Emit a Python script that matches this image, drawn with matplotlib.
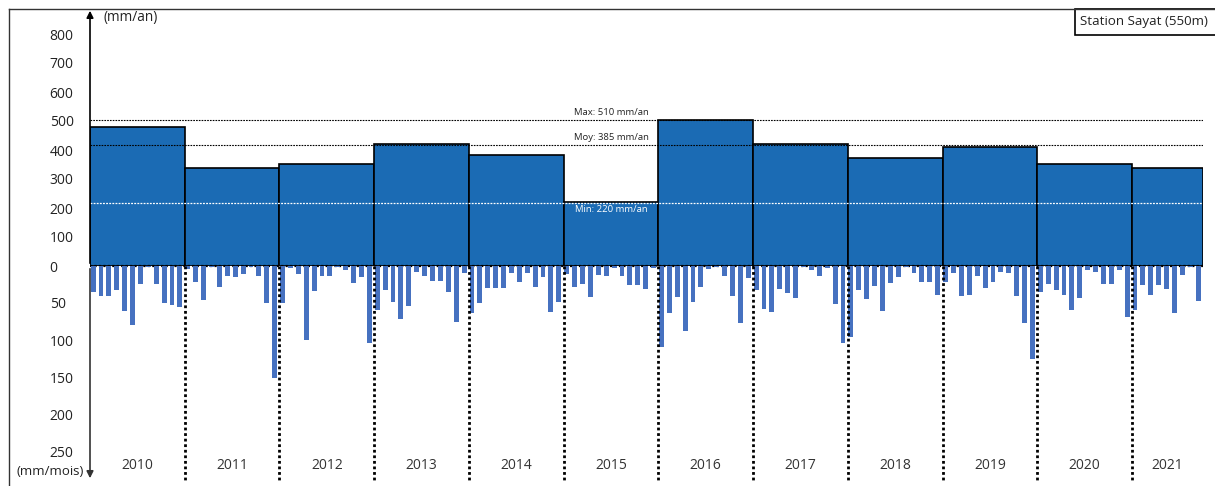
import matplotlib
matplotlib.use("Agg")
import matplotlib.pyplot as plt
from matplotlib.patches import FancyArrowPatch, Rectangle
from matplotlib.lines import Line2D

plt.rcParams["font.family"] = ["Open Sans", "DejaVu Sans"]

# Data
years = [2010, 2011, 2012, 2013, 2014, 2015, 2016, 2017, 2018, 2019, 2020, 2021]
annual = [478, 338, 352, 421, 383, 222, 503, 421, 372, 410, 352, 338]  # mm/an
monthly = [
    [35, 40, 40, 32, 61, 80, 25, 2, 25, 50, 53, 56],
    [4, 22, 46, 1, 28, 14, 15, 11, 1, 14, 50, 152],
    [50, 3, 11, 100, 34, 14, 14, 2, 6, 23, 15, 104],
    [59, 33, 48, 72, 54, 8, 14, 20, 20, 35, 76, 9],
    [63, 50, 30, 30, 30, 10, 22, 10, 28, 15, 62, 49],
    [11, 28, 25, 42, 12, 14, 3, 13, 26, 26, 31, 3],
    [110, 64, 42, 88, 49, 28, 4, 1, 13, 40, 77, 16],
    [32, 58, 62, 31, 36, 43, 2, 5, 13, 3, 51, 104],
    [96, 33, 45, 27, 61, 23, 15, 1, 10, 22, 22, 39],
    [21, 10, 40, 39, 14, 30, 22, 8, 10, 41, 77, 125],
    [35, 25, 33, 39, 60, 43, 5, 8, 25, 25, 5, 69],
    [60, 26, 39, 26, 31, 64, 12, 1, 47],
]  # mm/mois
ref_levels = [503, 417, 217]  # where the dotted lines sit
ref_labels = ["Max: 510 mm/an", "Moy: 385 mm/an", "Min: 220 mm/an"]
top_ticks = [0, 100, 200, 300, 400, 500, 600, 700, 800]
bot_ticks = [50, 100, 150, 200, 250]

annual_color = "#1b6bb4"
monthly_color = "#4671c0"
W, H = 1215, 486


def fx(px):
    return px / W


def fy(py):
    return 1 - py / H


fig = plt.figure(figsize=(W / 100, H / 100), dpi=100)
x0, x1 = 90, 1203
ax_top = fig.add_axes([fx(x0), fy(266), fx(x1) - fx(x0), fy(10) - fy(266)])
ax_bot = fig.add_axes([fx(x0), fy(482), fx(x1) - fx(x0), fy(266) - fy(482)])

# month positions
starts = []
pos = 0
for m in monthly:
    starts.append(pos)
    pos += len(m)
n_total = pos

for ax in (ax_top, ax_bot):
    ax.set_xlim(0, n_total)
    for s in ax.spines.values():
        s.set_visible(False)
    ax.set_xticks([])
    ax.patch.set_alpha(0)

ax_top.set_ylim(0, (266 - 10) / 0.29)
ax_bot.set_ylim((482 - 266) / 0.74, 0)

# annual bars
ax_top.bar(starts, annual, width=[len(m) for m in monthly], align="edge",
           color=annual_color, edgecolor="black", linewidth=1.2, zorder=2)

# reference lines
ax_top.axhline(ref_levels[0], color="black", lw=0.8, ls=(0, (1.5, 1)), zorder=3)
ax_top.axhline(ref_levels[1], color="black", lw=0.8, ls=(0, (1.5, 1)), zorder=3)
ax_top.axhline(ref_levels[2], color="white", lw=0.9, ls=(0, (1.5, 1)), zorder=3)
ax_top.text(66, ref_levels[0] + 10, ref_labels[0], ha="center", va="bottom", fontsize=6.8, color="#222222")
ax_top.text(66, ref_levels[1] + 10, ref_labels[1], ha="center", va="bottom", fontsize=6.8, color="#222222")
ax_top.text(66, ref_levels[2] - 8, ref_labels[2], ha="center", va="top", fontsize=6.8, color="white", zorder=4)

ax_top.axhline(0, color="black", lw=1.6, ls=(0, (1, 1)), zorder=4, clip_on=False)

# monthly bars
for s, m in zip(starts, monthly):
    xs = [s + i + 0.08 for i in range(len(m))]
    ax_bot.bar(xs, m, width=0.62, align="edge", color=monthly_color, zorder=2)

# year separators
ax_bot.vlines(starts[1:], 0, (482 - 266) / 0.74, colors="black", lw=2,
              linestyles=(0, (1, 1)), zorder=3)

for s, m, y in zip(starts, monthly, years):
    ax_bot.text(s + len(m) / 2, 270, str(y), ha="center", va="center",
                fontsize=10, color="#333333")

# tick labels
ax_top.set_yticks(top_ticks)
ax_top.set_yticklabels([str(t) for t in top_ticks])
ax_bot.set_yticks(bot_ticks)
ax_bot.set_yticklabels([str(t) for t in bot_ticks])
for ax in (ax_top, ax_bot):
    ax.tick_params(axis="y", length=0, pad=29, labelsize=10, labelcolor="#222222")
    for lab in ax.get_yticklabels():
        lab.set_horizontalalignment("left")

# vertical axis with arrows
arr_up = FancyArrowPatch((fx(x0), fy(266)), (fx(x0), fy(8)), transform=fig.transFigure,
                         arrowstyle="-|>", mutation_scale=10, color="black", lw=1.2)
arr_dn = FancyArrowPatch((fx(x0), fy(266)), (fx(x0), fy(481)), transform=fig.transFigure,
                         arrowstyle="-|>", mutation_scale=10, color="#333333", lw=1.2)
fig.add_artist(arr_up)
fig.add_artist(arr_dn)

fig.text(fx(103), fy(17), "(mm/an)", ha="left", va="center", fontsize=9.8, color="#222222")
fig.text(fx(84), fy(471), "(mm/mois)", ha="right", va="center", fontsize=9.5, color="#222222")

# frame
fig.add_artist(Line2D([fx(9), 1], [fy(9), fy(9)], transform=fig.transFigure, color="#333333", lw=1))
fig.add_artist(Line2D([fx(9), fx(9)], [fy(9), 0], transform=fig.transFigure, color="#333333", lw=1))

# station box
fig.add_artist(Rectangle((fx(1075), fy(35)), fx(1240) - fx(1075), fy(9) - fy(35),
                         transform=fig.transFigure, facecolor="white", edgecolor="black", lw=1.2))
fig.text(fx(1080), fy(22), "Station Sayat (550m)", ha="left", va="center", fontsize=9.6, color="#222222")

fig.savefig("out.png", dpi=100)
